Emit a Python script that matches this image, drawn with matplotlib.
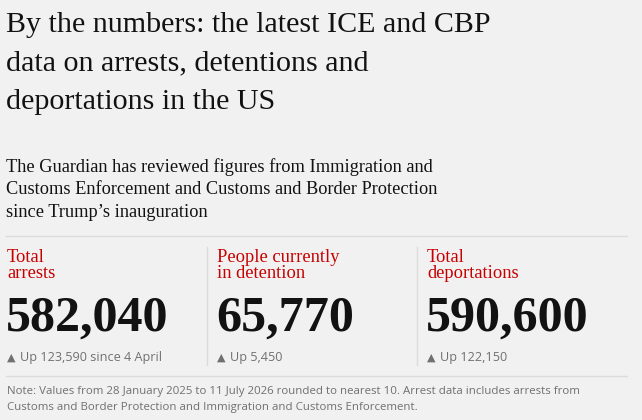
import matplotlib
matplotlib.use('Agg')
import matplotlib.pyplot as plt

title_lines = ['By the numbers: the latest ICE and CBP',
               'data on arrests, detentions and',
               'deportations in the US']
subtitle_lines = ['The Guardian has reviewed figures from Immigration and',
                  'Customs Enforcement and Customs and Border Protection',
                  'since Trump\u2019s inauguration']
labels = [['Total', 'arrests'], ['People currently', 'in detention'], ['Total', 'deportations']]
values = [582040, 65770, 590600]
changes = [123590, 5450, 122150]
change_notes = [' since 4 April', '', '']
note_lines = ['Note: Values from 28 January 2025 to 11 July 2026 rounded to nearest 10. Arrest data includes arrests from',
              'Customs and Border Protection and Immigration and Customs Enforcement.']

bg = '#f1f1f1'
red = '#c70000'
grey = '#707070'
ink = '#121212'
rule = '#dcdcdc'
serif = ['Liberation Serif', 'DejaVu Serif']
sans = ['Open Sans', 'DejaVu Sans']

fig = plt.figure(figsize=(6.42, 4.20), dpi=100, facecolor=bg)
ax = fig.add_axes([0, 0, 1, 1])
ax.set_xlim(0, 642)
ax.set_ylim(420, 0)
ax.axis('off')
fig.canvas.draw()
renderer = fig.canvas.get_renderer()


def fit_size(s, width, size, **kw):
    # font size at which s spans width pixels
    t = ax.text(0, 0, s, fontsize=size, **kw)
    w = t.get_window_extent(renderer).width
    t.remove()
    return size * width / w


# headline
sz = fit_size(title_lines[0], 485, 27, family=serif)
for i, s in enumerate(title_lines):
    ax.text(6, 32 + i * 38.5, s, fontsize=sz, family=serif, color=ink, va='baseline')

# standfirst
sz = fit_size(subtitle_lines[1], 431, 16, family=serif)
for i, s in enumerate(subtitle_lines):
    ax.text(6, 172 + i * 22.5, s, fontsize=sz, family=serif, color=ink, va='baseline')

# rules
ax.plot([6, 627], [236, 236], color=rule, lw=1)
ax.plot([6, 627], [376, 376], color=rule, lw=1)
for x in [207, 417]:
    ax.plot([x, x], [247, 365], color=rule, lw=1)

# columns
xs = [7, 217, 427]
num_sz = fit_size(f'{values[0]:,}', 163, 33, family=serif, weight='bold')
for i in range(3):
    x = xs[i]
    for j, s in enumerate(labels[i]):
        ax.text(x, 262 + j * 15.5, s, fontsize=13.3, family=serif, color=red, va='baseline')
    ax.text(x - 1, 331, f'{values[i]:,}', fontsize=num_sz, family=serif, weight='bold',
            color=ink, va='baseline')
    ax.text(x - 0.5, 360.5, '\u25b2', fontsize=8, family=['DejaVu Sans'], color=grey, va='baseline')
    ax.text(x + 13, 361, f'Up {changes[i]:,}{change_notes[i]}', fontsize=9.1,
            family=sans, color=grey, va='baseline')

# footnote
sz = fit_size(note_lines[0], 576, 9, family=sans)
for i, s in enumerate(note_lines):
    ax.text(7, 394 + i * 16, s, fontsize=sz, family=sans, color=grey, va='baseline')

fig.savefig('out.png', dpi=100, facecolor=bg)
